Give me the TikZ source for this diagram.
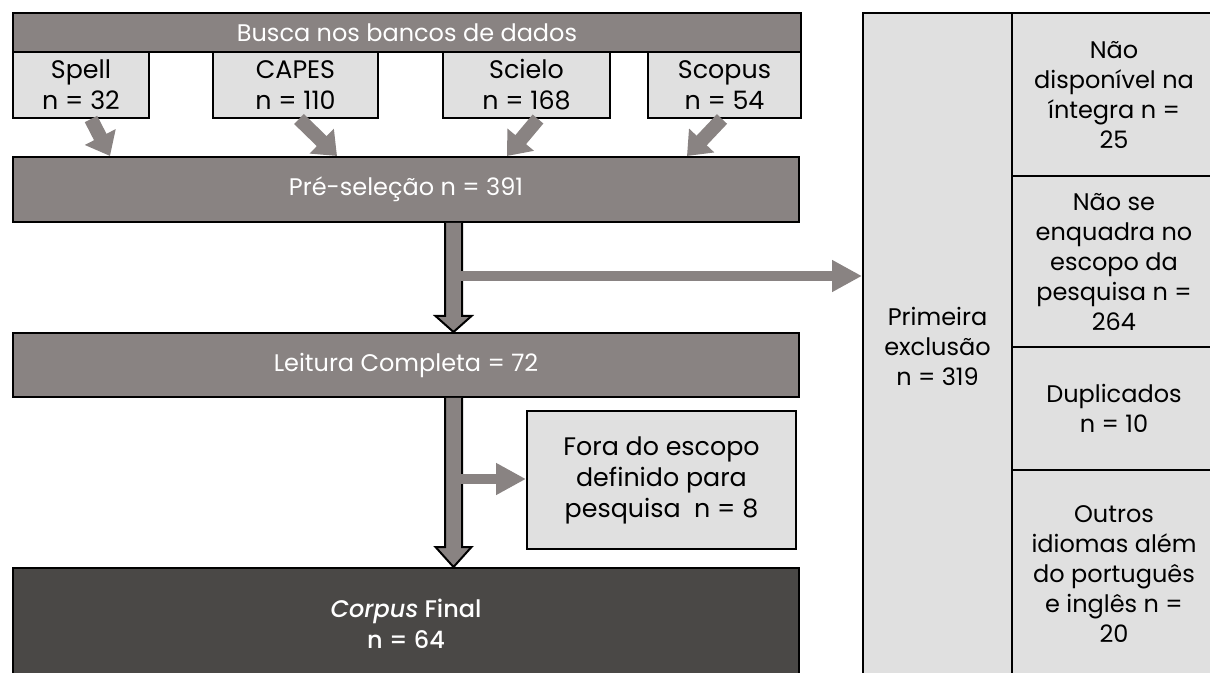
\documentclass[tikz,border=0pt]{standalone}
\usepackage{fontspec}
\setmainfont{Poppins}
\newfontfamily\corpusfont{Poppins Medium}
\usetikzlibrary{arrows.meta,calc}
\definecolor{boxgray}{RGB}{137,131,130}
\definecolor{lightbox}{RGB}{224,224,224}
\definecolor{darkbox}{RGB}{74,72,70}
\begin{document}
\begin{tikzpicture}[x=0.75pt,y=-0.75pt,
  base/.style={draw=black, line width=1.5pt, anchor=north west, inner sep=0pt, align=center},
  dbox/.style={base, fill=boxgray, text=white, font=\fontsize{18}{23}\selectfont},
  lbox/.style={base, fill=lightbox, text=black, font=\fontsize{19}{23.25}\selectfont},
  cbox/.style={base, fill=darkbox, text=white, font=\fontsize{18}{23}\corpusfont},
  tcell/.style={base, fill=lightbox, text=black, font=\fontsize{18}{22.5}\selectfont},
  diag/.style={draw=boxgray, line width=10.5pt, -{Triangle[length=16pt,width=25pt]}},
  harrow/.style={draw=boxgray, line width=7.5pt, -{Triangle[length=22.5pt,width=22.5pt]}},
  varrow/.style={draw=black, fill=boxgray, line width=1.5pt, line join=miter}
]
\useasboundingbox (0,0) rectangle (1210,673);
\clip (0,0) rectangle (1210,673);

% right table
\node[tcell, minimum width=111.75pt, minimum height=499.5pt] (excl) at (862,12) {Primeira\\exclusão\\n = 319};
\node[tcell, minimum width=153pt, minimum height=122.25pt] (c1) at (1011,12) {Não\\disponível na\\íntegra n =\\25};
\node[tcell, minimum width=153pt, minimum height=128.25pt] (c2) at (1011,175) {Não se\\enquadra no\\escopo da\\pesquisa n =\\264};
\node[tcell, minimum width=153pt, minimum height=92.25pt] (c3) at (1011,346) {Duplicados\\n = 10};
\node[tcell, minimum width=153pt, minimum height=156.75pt] (c4) at (1011,469) {Outros\\idiomas além\\do português\\e inglês n =\\20};

% left flow
\node[dbox, minimum width=591pt, minimum height=29.25pt] (busca) at (12,12) {Busca nos bancos de dados};
\node[lbox, minimum width=102pt, minimum height=49.5pt] (spell) at (12,51) {Spell\\n = 32};
\node[lbox, minimum width=123.75pt, minimum height=49.5pt] (capes) at (212,51) {CAPES\\n = 110};
\node[lbox, minimum width=125.25pt, minimum height=49.5pt] (scielo) at (442,51) {Scielo\\n = 168};
\node[lbox, minimum width=114.75pt, minimum height=49.5pt] (scopus) at (647,51) {Scopus\\n = 54};
\node[dbox, minimum width=589.5pt, minimum height=48.75pt] (pre) at (12,156) {Pré-seleção n = 391};
\node[dbox, minimum width=589.5pt, minimum height=48pt] (leitura) at (12,332) {Leitura Completa = 72};
\node[lbox, minimum width=201.75pt, minimum height=103.5pt] (fora) at (526,410) {Fora do escopo\\definido para\\pesquisa~ n = 8};
\node[cbox, minimum width=589.5pt, minimum height=83.25pt] (corpus) at (12,567) {{\itshape Corpus} Final\\n = 64};

% diagonal arrows
\draw[diag] ($(spell.south)+(10,0)$) -- ($(pre.north west)+(98,0)$);
\draw[diag] ($(capes.south)+(3.5,0)$) -- ($(pre.north west)+(325,0)$);
\draw[diag] ($(scielo.south)+(11.5,0)$) -- ($(pre.north west)+(495,0)$);
\draw[diag] ($(scopus.south)+(-2.5,0)$) -- ($(pre.north west)+(675,0)$);

% vertical arrows
\coordinate (vx) at (453.5,0);
\path (pre.south -| vx) coordinate (a1s) (leitura.north -| vx) coordinate (a1t);
\path (leitura.south -| vx) coordinate (a2s) (corpus.north -| vx) coordinate (a2t);
\draw[varrow] ($(a1s)+(-8.5,0)$) -- ($(a1t)+(-8.5,-16)$) -- ($(a1t)+(-18,-16)$) -- (a1t) -- ($(a1t)+(18,-16)$) -- ($(a1t)+(8.5,-16)$) -- ($(a1s)+(8.5,0)$);
\draw[varrow] ($(a2s)+(-8.5,0)$) -- ($(a2t)+(-8.5,-20)$) -- ($(a2t)+(-18,-20)$) -- (a2t) -- ($(a2t)+(18,-20)$) -- ($(a2t)+(8.5,-20)$) -- ($(a2s)+(8.5,0)$);

% branch arrows
\coordinate (b1) at (461,276);
\coordinate (b2) at (461,479);
\draw[harrow] (b1) -- (b1 -| excl.west);
\draw[harrow] (b2) -- (b2 -| fora.west);
\end{tikzpicture}
\end{document}
